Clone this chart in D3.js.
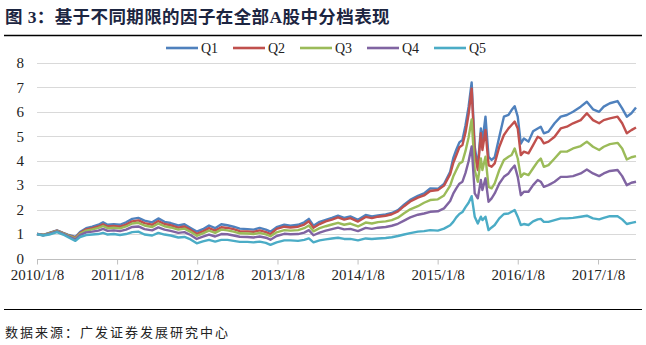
<!DOCTYPE html>
<html>
<head>
<meta charset="utf-8">
<script src="https://cdn.jsdelivr.net/npm/d3@7"></script>
<style>
  html, body { margin: 0; padding: 0; background: #ffffff; }
  svg { display: block; }
</style>
</head>
<body>
<svg id="chart" width="646" height="345"></svg>
<script>
// Weekly observation dates (sampled) for the five factor buckets
const dates = [
  "2010-01-08","2010-02-05","2010-03-05","2010-04-09","2010-05-07","2010-05-28","2010-07-02","2010-07-23",
  "2010-08-20","2010-09-17","2010-10-15","2010-11-05","2010-11-26","2010-12-24","2011-01-21","2011-02-18",
  "2011-03-18","2011-04-15","2011-05-13","2011-06-17","2011-07-15","2011-08-12","2011-09-09","2011-10-14",
  "2011-11-11","2011-12-09","2012-01-06","2012-02-03","2012-03-02","2012-03-30","2012-04-27","2012-05-25",
  "2012-06-22","2012-07-20","2012-08-24","2012-09-21","2012-10-19","2012-11-16","2012-12-07","2013-01-04",
  "2013-02-08","2013-03-08","2013-04-12","2013-05-10","2013-05-31","2013-06-21","2013-07-19","2013-08-16",
  "2013-09-13","2013-10-11","2013-11-08","2013-12-06","2014-01-10","2014-02-14","2014-03-14","2014-04-11",
  "2014-05-16","2014-06-13","2014-07-11","2014-08-08","2014-09-05","2014-10-10","2014-11-07","2014-12-05",
  "2015-01-09","2015-02-06","2015-03-06","2015-03-20","2015-04-03","2015-04-17","2015-05-01","2015-05-15",
  "2015-05-29","2015-06-12","2015-06-26","2015-07-10","2015-07-24","2015-07-31","2015-08-14","2015-08-28",
  "2015-09-11","2015-09-25","2015-10-16","2015-11-06","2015-11-27","2015-12-11","2015-12-25","2016-01-08",
  "2016-01-22","2016-02-05","2016-02-26","2016-03-18","2016-04-08","2016-04-22","2016-05-06","2016-05-27",
  "2016-06-24","2016-07-22","2016-08-19","2016-09-16","2016-10-21","2016-11-18","2016-12-16","2017-01-13",
  "2017-02-03","2017-03-03","2017-04-07","2017-04-28","2017-05-19","2017-06-09","2017-06-30"
];

const q1 = [
  1.00,0.97,1.05,1.15,1.05,0.98,0.88,1.08, 1.24,1.30,1.38,1.48,1.38,1.40,1.38,1.48,
  1.62,1.66,1.55,1.48,1.64,1.50,1.45,1.35, 1.40,1.25,1.10,1.20,1.35,1.24,1.40,1.36,
  1.30,1.22,1.20,1.18,1.25,1.18,1.10,1.28, 1.38,1.34,1.38,1.48,1.62,1.34,1.50,1.58,
  1.66,1.75,1.66,1.72,1.58,1.78,1.72,1.76, 1.80,1.86,1.98,2.20,2.40,2.56,2.66,2.87,
  2.85,3.05,3.55,4.10,4.45,4.75,4.85,5.45, 6.20,7.20,4.57,3.75,5.32,4.78,5.80,4.16,
  4.03,4.14,4.98,5.80,5.87,6.07,6.23,5.80, 4.70,4.91,4.78,5.20,5.32,5.39,5.12,5.19,
  5.53,5.80,5.87,6.00,6.21,6.41,6.10,6.00, 6.21,6.35,6.44,6.14,5.80,5.94,6.18
];

const q2 = [
  1.00,0.96,1.04,1.14,1.04,0.96,0.85,1.04, 1.19,1.24,1.31,1.40,1.31,1.33,1.30,1.39,
  1.52,1.56,1.45,1.38,1.53,1.41,1.36,1.26, 1.31,1.17,1.01,1.11,1.24,1.14,1.28,1.25,
  1.20,1.12,1.11,1.09,1.15,1.08,1.00,1.21, 1.30,1.27,1.30,1.39,1.52,1.26,1.41,1.52,
  1.59,1.68,1.59,1.65,1.51,1.70,1.65,1.71, 1.75,1.81,1.93,2.14,2.33,2.49,2.58,2.76,
  2.80,2.98,3.45,3.90,4.22,4.55,4.64,5.15, 5.90,6.95,4.30,3.62,5.12,4.44,5.25,3.82,
  3.75,3.89,4.57,5.05,5.32,5.46,5.60,5.32, 4.23,4.37,4.30,4.64,4.98,4.91,4.71,4.78,
  4.98,5.32,5.39,5.53,5.66,5.94,5.66,5.53, 5.66,5.73,5.80,5.53,5.12,5.25,5.36
];

const q3 = [
  1.00,0.96,1.03,1.13,1.03,0.95,0.82,1.01, 1.14,1.19,1.25,1.33,1.24,1.26,1.23,1.31,
  1.43,1.46,1.35,1.29,1.43,1.32,1.27,1.18, 1.22,1.09,0.93,1.03,1.14,1.05,1.18,1.15,
  1.10,1.03,1.02,1.00,1.05,0.99,0.91,1.07, 1.16,1.14,1.16,1.24,1.35,1.11,1.24,1.32,
  1.39,1.46,1.38,1.43,1.31,1.47,1.43,1.49, 1.52,1.57,1.67,1.85,2.01,2.14,2.28,2.39,
  2.42,2.58,2.98,3.35,3.62,3.88,3.96,4.40, 4.95,5.69,3.62,3.14,4.09,3.62,4.16,2.93,
  2.87,3.07,3.62,4.03,4.16,4.23,4.50,4.09, 3.34,3.48,3.41,3.69,3.96,4.09,3.75,3.82,
  4.09,4.37,4.37,4.50,4.60,4.78,4.57,4.44, 4.57,4.68,4.73,4.50,4.05,4.14,4.19
];

const q4 = [
  1.00,0.95,1.01,1.11,1.01,0.92,0.78,0.96, 1.07,1.10,1.14,1.21,1.13,1.15,1.12,1.18,
  1.29,1.31,1.20,1.15,1.27,1.18,1.13,1.05, 1.08,0.96,0.80,0.89,0.98,0.90,1.00,0.99,
  0.94,0.89,0.88,0.86,0.90,0.85,0.77,0.92, 1.01,0.99,1.00,1.06,1.16,0.95,1.06,1.14,
  1.20,1.26,1.19,1.21,1.12,1.25,1.21,1.26, 1.29,1.34,1.42,1.55,1.68,1.79,1.84,1.91,
  1.93,2.05,2.35,2.65,2.87,3.06,3.14,3.50, 3.98,4.58,2.66,2.46,3.21,2.80,3.28,2.32,
  2.46,2.66,3.07,3.34,3.48,3.66,3.80,3.34, 2.59,2.73,2.73,3.00,3.21,3.14,2.93,3.00,
  3.14,3.34,3.34,3.37,3.48,3.64,3.48,3.37, 3.48,3.58,3.62,3.37,3.00,3.10,3.14
];

const q5 = [
  1.00,0.94,0.98,1.08,0.98,0.88,0.72,0.88, 0.96,0.98,1.00,1.05,0.98,1.00,0.96,1.00,
  1.08,1.10,0.98,0.94,1.05,0.98,0.94,0.86, 0.88,0.78,0.62,0.70,0.76,0.69,0.76,0.76,
  0.72,0.68,0.68,0.66,0.69,0.64,0.56,0.66, 0.74,0.74,0.72,0.76,0.82,0.66,0.74,0.78,
  0.82,0.85,0.80,0.80,0.74,0.82,0.80,0.82, 0.84,0.87,0.92,0.98,1.04,1.10,1.12,1.16,
  1.14,1.22,1.36,1.50,1.68,1.82,1.90,2.10, 2.28,2.55,1.71,1.43,1.71,1.57,1.71,1.16,
  1.27,1.37,1.64,1.82,1.84,1.91,1.98,1.71, 1.37,1.41,1.37,1.52,1.60,1.62,1.50,1.50,
  1.57,1.64,1.64,1.66,1.71,1.75,1.64,1.60, 1.66,1.73,1.73,1.60,1.41,1.46,1.50
];

const seriesNames = ["Q1", "Q2", "Q3", "Q4", "Q5"];
const seriesColors = ["#4F81BD", "#C0504D", "#9BBB59", "#8064A2", "#4BACC6"];
const yTicks = [0, 1, 2, 3, 4, 5, 6, 7, 8];
const xTickLabels = ["2010/1/8", "2011/1/8", "2012/1/8", "2013/1/8", "2014/1/8", "2015/1/8", "2016/1/8", "2017/1/8"];

const titleText = "图 3：基于不同期限的因子在全部A股中分档表现";
const sourceText = "数据来源：广发证券发展研究中心";

// ---------------------------------------------------------------
const svg = d3.select("#chart");
const latinCjk = "'Liberation Serif','Times New Roman','Noto Sans CJK SC',serif";

const parseDate = d3.timeParse("%Y-%m-%d");
const parseLabel = d3.timeParse("%Y/%m/%d");
const xDates = dates.map(parseDate);
const allSeries = [q1, q2, q3, q4, q5];

const plot = { left: 37, right: 636, top: 62.9, bottom: 258.5 };

const x = d3.scaleTime()
  .domain([xDates[0], xDates[xDates.length - 1]])
  .range([plot.left, plot.right]);

const y = d3.scaleLinear()
  .domain([0, 8])
  .range([plot.bottom, plot.top]);

// Title and rule
svg.append("text")
  .attr("x", 5).attr("y", 23)
  .attr("font-family", latinCjk)
  .attr("font-size", 17.5)
  .attr("font-weight", "bold")
  .attr("letter-spacing", 0.4)
  .attr("fill", "#1c2541")
  .text(titleText);

svg.append("line")
  .attr("x1", 4).attr("x2", 642)
  .attr("y1", 35.5).attr("y2", 35.5)
  .attr("stroke", "#000").attr("stroke-width", 1.5);

// Horizontal gridlines
svg.append("g")
  .selectAll("line")
  .data(yTicks.filter(d => d > 0))
  .join("line")
  .attr("x1", plot.left).attr("x2", plot.right)
  .attr("y1", d => Math.round(y(d)) + 0.5)
  .attr("y2", d => Math.round(y(d)) + 0.5)
  .attr("stroke", "#d9d9d9").attr("stroke-width", 1);

// Y axis labels (no axis line)
const yAxis = d3.axisLeft(y).tickValues(yTicks).tickSize(0).tickPadding(0).tickFormat(d3.format("d"));
const yG = svg.append("g").attr("transform", `translate(${24},0)`).call(yAxis);
yG.select(".domain").remove();
yG.selectAll("text")
  .attr("font-family", latinCjk)
  .attr("font-size", 15)
  .attr("fill", "#222");

// X axis
const xTicks = xTickLabels.map(parseLabel);
const xAxis = d3.axisBottom(x)
  .tickValues(xTicks)
  .tickSize(5)
  .tickPadding(5)
  .tickFormat((d, i) => xTickLabels[i]);
const xG = svg.append("g")
  .attr("transform", `translate(0,${Math.round(plot.bottom) + 0.5})`)
  .call(xAxis);
xG.select(".domain")
  .attr("stroke", "#bfbfbf")
  .attr("d", `M${plot.left},0H${plot.right}`);
xG.selectAll(".tick line").attr("stroke", "#bfbfbf");
xG.selectAll("text")
  .attr("font-family", latinCjk)
  .attr("font-size", 15)
  .attr("fill", "#222");

// Series lines
const line = d3.line()
  .x((d, i) => x(xDates[i]))
  .y(d => y(d));

svg.append("g")
  .selectAll("path")
  .data(allSeries)
  .join("path")
  .attr("d", d => line(d))
  .attr("fill", "none")
  .attr("stroke", (d, i) => seriesColors[i])
  .attr("stroke-width", 2.4)
  .attr("stroke-linejoin", "round");

// Legend
const legend = svg.append("g");
const legendStart = 166, legendStep = 67, legendY = 48;
seriesNames.forEach((name, i) => {
  const gx = legendStart + i * legendStep;
  legend.append("line")
    .attr("x1", gx).attr("x2", gx + 32)
    .attr("y1", legendY).attr("y2", legendY)
    .attr("stroke", seriesColors[i]).attr("stroke-width", 2.6);
  legend.append("text")
    .attr("x", gx + 35).attr("y", legendY + 5)
    .attr("font-family", latinCjk)
    .attr("font-size", 14)
    .attr("fill", "#222")
    .text(name);
});

// Source footer
svg.append("line")
  .attr("x1", 4).attr("x2", 642)
  .attr("y1", 309.5).attr("y2", 309.5)
  .attr("stroke", "#000").attr("stroke-width", 1);

svg.append("text")
  .attr("x", 5).attr("y", 337)
  .attr("font-family", "'Noto Sans CJK SC',sans-serif")
  .attr("font-size", 13)
  .attr("letter-spacing", 2)
  .attr("fill", "#222")
  .text(sourceText);
</script>
</body>
</html>
